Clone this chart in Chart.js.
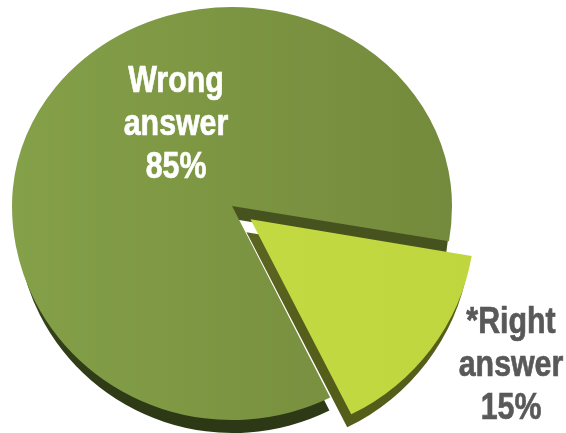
<!DOCTYPE html>
<html>
<head>
<meta charset="utf-8">
<script src="https://cdn.jsdelivr.net/npm/chart.js@4"></script>
<style>
html, body { margin: 0; padding: 0; background: #fff; overflow: hidden; }
canvas { display: block; }
</style>
</head>
<body>
<canvas id="pie" width="566" height="433"></canvas>
<script>
const categories = ['Wrong answer', '*Right answer'];
const values = [85, 15];

const faceColors = [['#84a048', '#748a3c'], ['#c6dd44', '#bfd63f']];
const wallColors = [['#47531f', '#35421a', '#2c3715'], ['#5b6320', '#565e1c', '#545c1a']];
const wallShift = [[1, 13], [-4, 13]];
const wallWidth = [0.982, 1];
const labelColors = ['#ffffff', '#595959'];
const labelCenters = [[176, 92], [511, 333]];

const cx = 232, cy = 206;
const scaleTop = 199 / 220, scaleBottom = 214 / 220;
const ctx = document.getElementById('pie').getContext('2d');

function hGrad(a, b) {
  const g = ctx.createLinearGradient(cx - 220, 0, cx + 220, 0);
  g.addColorStop(0, a);
  g.addColorStop(1, b);
  return g;
}
function vGrad(a, b, c) {
  const g = ctx.createLinearGradient(0, 200, 0, 430);
  g.addColorStop(0, a);
  g.addColorStop(0.2, a);
  g.addColorStop(0.42, b);
  g.addColorStop(1, c);
  return g;
}

// the picture is slightly foreshortened, so above and below the apex get their own y scale
function squashed(c, dx, dy, sx, draw) {
  [[0, cy, scaleTop], [cy, 433 - cy, scaleBottom]].forEach(function (part) {
    c.save();
    c.beginPath();
    c.rect(-2, part[0] + dy, 570, part[1]);
    c.clip();
    c.translate(cx + dx, dy + cy);
    c.scale(sx, part[2]);
    c.translate(-cx, -cy);
    draw();
    c.restore();
  });
}

const tiltedPie = {
  id: 'tiltedPie',
  beforeDatasetDraw(chart, args) {
    const c = chart.ctx;
    const arcs = args.meta.data;
    // big slice first, then the pulled out one over it
    arcs.forEach(function (arc, i) {
      const opts = arc.options;
      arc.options = Object.assign({}, opts, {backgroundColor: vGrad.apply(null, wallColors[i])});
      squashed(c, wallShift[i][0], wallShift[i][1], wallWidth[i], function () { arc.draw(c); });
      arc.options = Object.assign({}, opts, {backgroundColor: hGrad.apply(null, faceColors[i])});
      squashed(c, 0, 0, 1, function () { arc.draw(c); });
      arc.options = opts;
    });
    return false;
  },
  afterDraw(chart) {
    const c = chart.ctx;
    c.save();
    c.textAlign = 'center';
    c.textBaseline = 'alphabetic';
    c.font = 'bold 37px "Liberation Sans", Arial, sans-serif';
    c.lineWidth = 0.7;
    categories.forEach(function (name, i) {
      const lines = name.split(' ').concat(values[i] + '%');
      c.fillStyle = labelColors[i];
      c.strokeStyle = labelColors[i];
      lines.forEach(function (line, n) {
        c.save();
        c.translate(labelCenters[i][0], labelCenters[i][1] + n * 43);
        c.scale(0.82, 1);
        c.fillText(line, 0, 0);
        c.strokeText(line, 0, 0);
        c.restore();
      });
    });
    c.restore();
  }
};

new Chart(ctx, {
  type: 'pie',
  data: {
    labels: categories,
    datasets: [{
      data: values,
      backgroundColor: ['#7f9a45', '#c2d93f'],
      borderWidth: 0,
      offset: [0, 92]
    }]
  },
  options: {
    responsive: false,
    animation: false,
    events: [],
    rotation: 153.5,
    radius: 220,
    layout: {padding: {right: 566 - 2 * cx, bottom: 433 - 2 * cy}},
    plugins: {legend: {display: false}, tooltip: {enabled: false}}
  },
  plugins: [tiltedPie]
});
</script>
</body>
</html>
